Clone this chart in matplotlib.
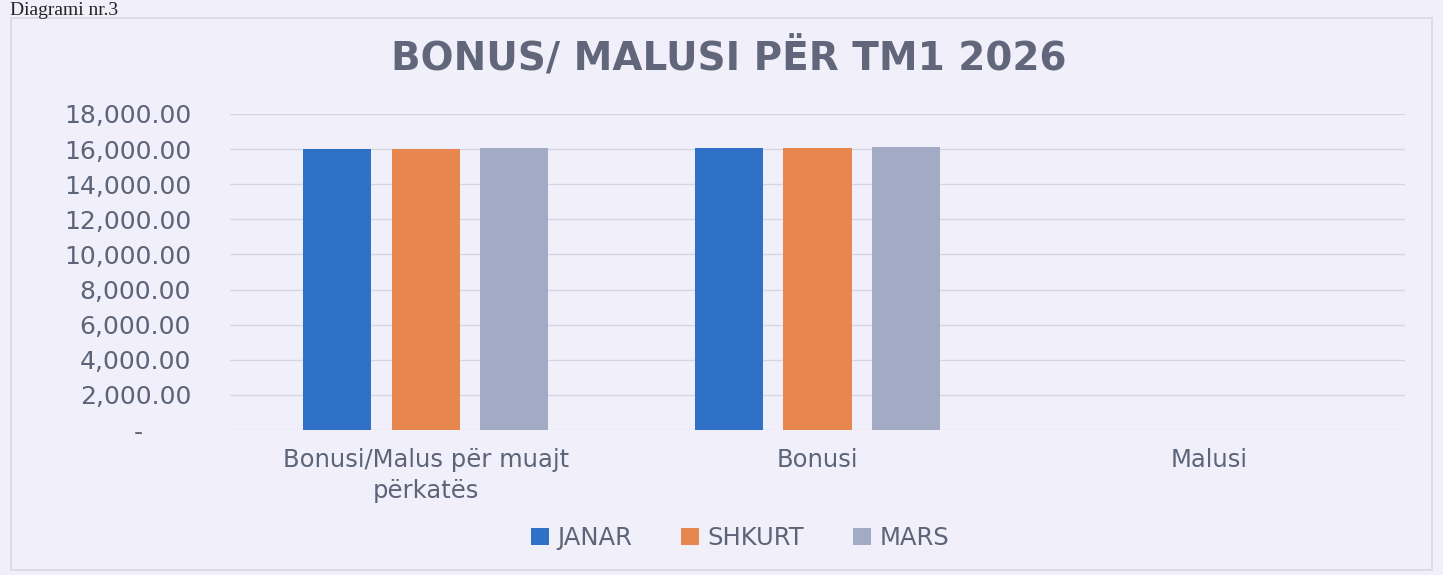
import numpy as np
import matplotlib.pyplot as plt
from matplotlib.patches import Rectangle

categories = ["Bonusi/Malus për muajt\npërkatës", "Bonusi", "Malusi"]
months = ["JANAR", "SHKURT", "MARS"]
janar = [16000, 16050, 0]
shkurt = [16020, 16080, 0]
mars = [16050, 16100, 0]
yticks = [0, 2000, 4000, 6000, 8000, 10000, 12000, 14000, 16000, 18000]

colors = ["#2f71c6", "#e7864f", "#a2aac4"]
bg = "#f1f0fa"
text_col = "#5d6478"

fig = plt.figure(figsize=(14.43, 5.75), dpi=100, facecolor=bg)
ax = fig.add_axes([230 / 1443, 1 - 430 / 575, 1175 / 1443, 316 / 575])
ax.set_facecolor(bg)

x = np.arange(len(categories))
width = 0.174
step = 0.226
for i, (name, vals) in enumerate(zip(months, [janar, shkurt, mars])):
    ax.bar(x + (i - 1) * step, vals, width, color=colors[i], label=name, zorder=3)

ax.set_xlim(-0.5, 2.5)
ax.set_ylim(0, 18000)
ax.set_yticks(yticks)
ax.set_yticklabels(["-      " if v == 0 else f"{v:,.2f}" for v in yticks],
                   fontsize=18, color=text_col)
ax.set_xticks(x)
ax.set_xticklabels(categories, fontsize=17.5, color=text_col, linespacing=1.35)
ax.tick_params(axis="y", length=0, pad=28)
ax.tick_params(axis="x", length=0, pad=13)
ax.grid(axis="y", color="#d6d6e2", linewidth=1.0, zorder=0)
for s in ax.spines.values():
    s.set_visible(False)

fig.text(729 / 1443, 1 - 58 / 575, "BONUS/ MALUSI PËR TM1 2026", fontsize=28,
         fontweight="bold", color="#62667a", ha="center", va="center")

fig.legend(loc="center", bbox_to_anchor=(740 / 1443, 1 - 538 / 575), ncol=3,
           frameon=False, fontsize=17.5, handlelength=0.75, handleheight=0.75,
           handletextpad=0.35, columnspacing=2.0, labelcolor=text_col)

# chart frame
fig.patches.append(Rectangle((11 / 1443, 5 / 575), 1421 / 1443, 552 / 575,
                             transform=fig.transFigure, fill=False,
                             edgecolor="#d8d8e2", linewidth=1.2))

fig.text(10 / 1443, 1 - 15 / 575, "Diagrami nr.3", family="Liberation Serif",
         fontsize=14, color="#222222", va="baseline")

fig.savefig("out.png", dpi=100, facecolor=bg)
